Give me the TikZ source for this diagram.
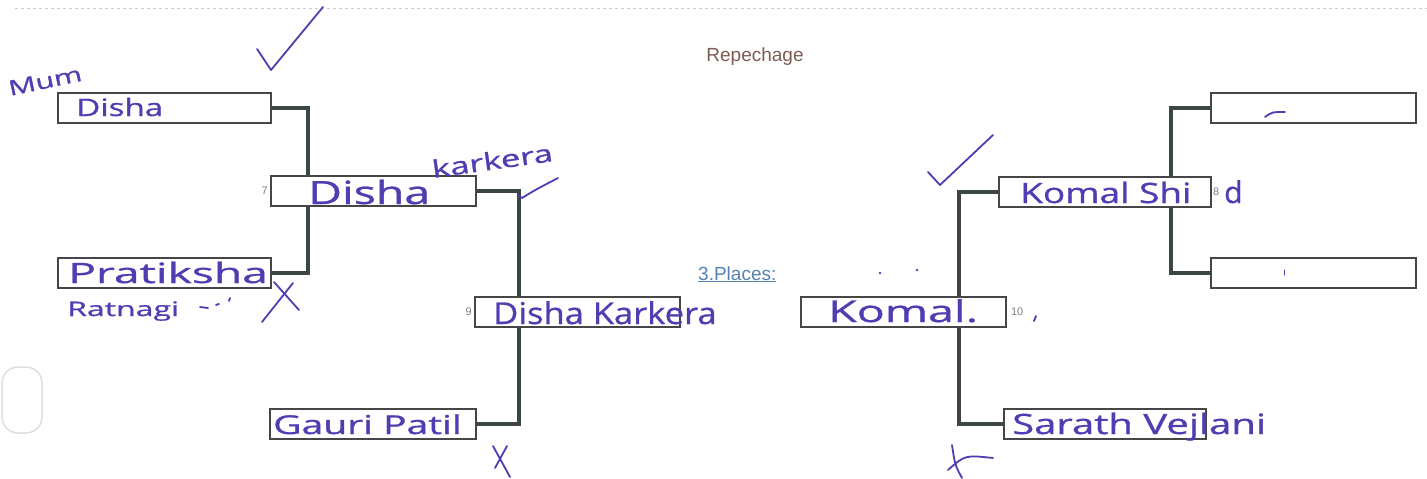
\documentclass[tikz,border=0pt]{standalone}
\usepackage{fontspec}
\usepackage{xcolor}
\newfontfamily\printfont{Liberation Sans}
\newfontfamily\handfont{Open Sans}[FakeBold=0.8]
\definecolor{ink}{RGB}{78,62,178}
\definecolor{boxgray}{RGB}{70,70,70}
\definecolor{linkgray}{RGB}{60,70,66}
\definecolor{titlebrown}{RGB}{125,91,82}
\definecolor{placeblue}{RGB}{85,130,180}
\newcommand{\inkw}[2]{\scalebox{#1}[1]{#2}}
\tikzset{
  namebox/.style={draw=boxgray, line width=1.8pt, fill=white, minimum height=30pt, inner sep=0pt, anchor=north west},
  link/.style={draw=linkgray, line width=4pt},
  hand/.style={text=ink, anchor=base west, inner sep=0pt},
  seed/.style={text=gray, font=\printfont\fontsize{11}{12}\selectfont, inner sep=0pt},
  stroke/.style={draw=ink, line width=1.8pt, line cap=round, line join=round},
}
\begin{document}
\begin{tikzpicture}[x=1pt, y=-1pt]
  % 画布
  \fill[white] (0,0) rectangle (1427,479);
  \useasboundingbox (0,0) rectangle (1427,479);

  % 顶部虚线和左边的孔
  \draw[gray!40, dashed, line width=1pt] (15,8) -- (1427,8);
  \draw[gray!25, line width=1.5pt, rounded corners=16pt] (2,367) rectangle (42,433);

  % 标题
  \node[text=titlebrown, font=\printfont\fontsize{19}{20}\selectfont] (title) at (755,57) {Repechage};
  \node[text=placeblue, font=\printfont\fontsize{19}{20}\selectfont, anchor=base west, inner sep=0pt] (places) at (698,280) {\underline{3.Places:}};

  % 左边的框
  \node[namebox, minimum width=213pt] (dA) at (57,92) {};
  \node[namebox, minimum width=205pt] (b7) at (270,175) {};
  \node[namebox, minimum width=213pt] (pr) at (57,257) {};
  \node[namebox, minimum width=205pt] (b9) at (474,296) {};
  \node[namebox, minimum width=206pt] (gp) at (269,408) {};

  % 右边的框
  \node[namebox, minimum width=205pt] (b10) at (800,296) {};
  \node[namebox, minimum width=212pt] (ks) at (998,176) {};
  \node[namebox, minimum width=205pt] (tr) at (1210,92) {};
  \node[namebox, minimum width=205pt] (lr) at (1210,257) {};
  \node[namebox, minimum width=202pt] (sv) at (1003,408) {};

  % 连接线
  \coordinate (j7) at (308,0);
  \coordinate (j9) at (519,0);
  \coordinate (j10) at (959,0);
  \coordinate (j8) at (1171,0);
  \draw[link] (dA.east) -| (j7 |- b7.north);
  \draw[link] (pr.east) -| (j7 |- b7.south);
  \draw[link] (b7.east) -| (j9 |- b9.north);
  \draw[link] (gp.east) -| (j9 |- b9.south);
  \draw[link] (ks.west) -| (j10 |- b10.north);
  \draw[link] (sv.west) -| (j10 |- b10.south);
  \draw[link] (tr.west) -| (j8 |- ks.north);
  \draw[link] (lr.west) -| (j8 |- ks.south);

  % 编号
  \node[seed, anchor=east] (n7) at ([xshift=-2pt]b7.west) {7};
  \node[seed, anchor=east] (n9) at ([xshift=-2pt]b9.west) {9};
  \node[seed, anchor=west] (n10) at ([xshift=4pt]b10.east) {10};
  \node[seed, anchor=west] (n8) at ([xshift=1pt]ks.east) {8};

  % 手写的名字
  \node[hand, font=\handfont\fontsize{21}{22}\selectfont, rotate=12] (mum) at (10,96) {\inkw{1.45}{Mum}};
  \node[hand, font=\handfont\fontsize{24}{26}\selectfont] (hA) at (76,116) {\inkw{1.38}{Disha}};
  \node[hand, font=\handfont\fontsize{32}{34}\selectfont] (h7) at (308,204) {\inkw{1.45}{Disha}};
  \node[hand, font=\handfont\fontsize{24}{26}\selectfont, rotate=8] (hkar) at (433,178) {\inkw{1.45}{karkera}};
  \node[hand, font=\handfont\fontsize{28}{30}\selectfont] (hpr) at (68,283) {\inkw{1.65}{Pratiksha}};
  \node[hand, font=\handfont\fontsize{20}{22}\selectfont] (hrat) at (67,316) {\inkw{1.6}{Ratnagi}};
  \node[hand, font=\handfont\fontsize{30}{32}\selectfont] (h9) at (493,324) {\inkw{1.15}{Disha Karkera}};
  \node[hand, font=\handfont\fontsize{26}{28}\selectfont] (hgp) at (273,434) {\inkw{1.5}{Gauri Patil}};
  \node[hand, font=\handfont\fontsize{30}{32}\selectfont] (h10) at (828,322) {\inkw{1.55}{Komal.}};
  \node[hand, font=\handfont\fontsize{28}{30}\selectfont] (hks) at (1020,203) {\inkw{1.32}{Komal Shi}};
  \node[hand, font=\handfont\fontsize{30}{32}\selectfont] (hd) at (1224,203) {d};
  \node[hand, font=\handfont\fontsize{28}{30}\selectfont] (hsv) at (1012,434) {\inkw{1.43}{Sarath Vejlani}};

  % 勾和叉
  \draw[stroke] (257,49) -- (271,70) -- (323,7);
  \draw[stroke] (518,195) -- (522,198) .. controls (535,190) .. (558,178);
  \draw[stroke] (928,172) -- (940,185) -- (993,135);
  \draw[stroke] (274,282) -- (299,310);
  \draw[stroke] (293,283) -- (262,322);
  \draw[stroke] (493,446) -- (510,477);
  \draw[stroke] (507,446) -- (495,468);
  \draw[stroke] (952,445) .. controls (955,465) .. (962,478);
  \draw[stroke] (948,470) .. controls (965,455) .. (993,458);

  % 其他小记号
  \draw[stroke] (200,307) -- (208,308);
  \draw[stroke] (216,305) -- (219,304);
  \draw[stroke] (230,298) -- (229,301);
  \fill[ink] (880,273) circle (1.3pt);
  \fill[ink] (917,270) circle (1.3pt);
  \draw[stroke] (1036,316) -- (1034,321);
  \draw[stroke] (1265,117) .. controls (1272,112) .. (1285,112);
  \draw[stroke, line width=1pt] (1284,270) -- (1284,275);
\end{tikzpicture}
\end{document}
